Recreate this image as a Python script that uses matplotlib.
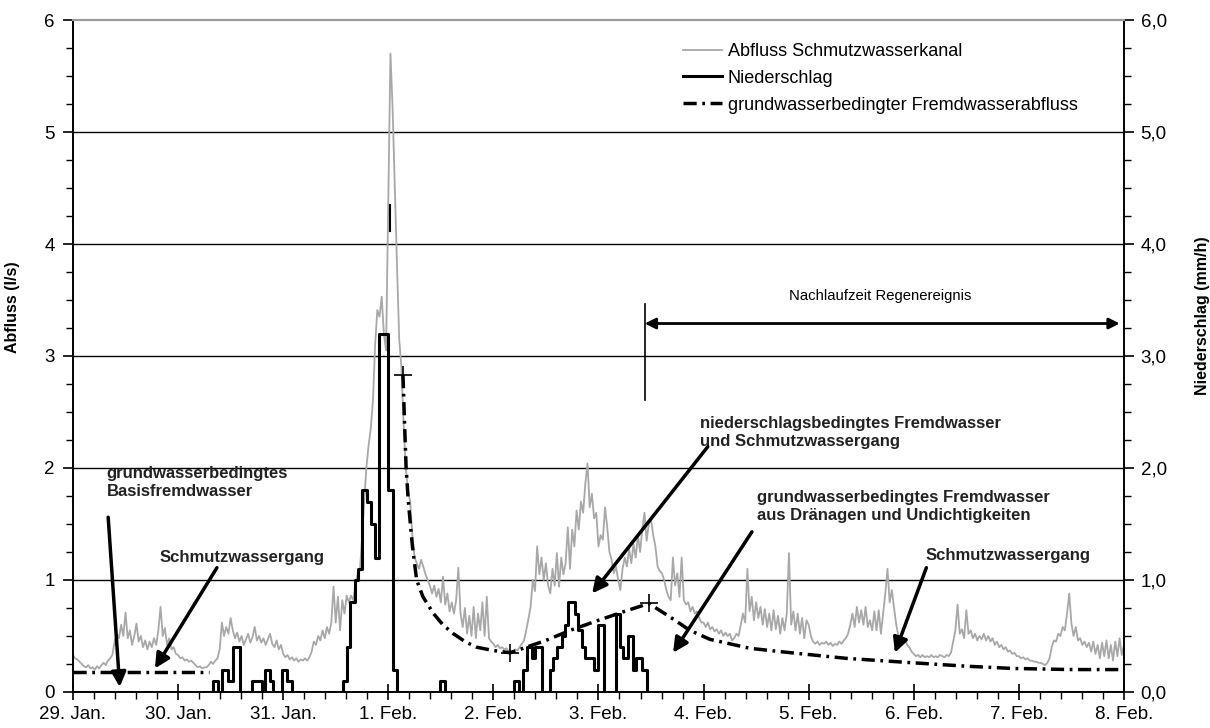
import numpy as np
import matplotlib.pyplot as plt
from matplotlib.ticker import MultipleLocator, FuncFormatter
from matplotlib.lines import Line2D

plt.rcParams['font.family'] = ['Liberation Sans', 'DejaVu Sans']

# sewer flow (l/s), 30-min values, one list per day
q_29jan = [0.33, 0.30, 0.29, 0.27, 0.25, 0.23, 0.22, 0.24, 0.21, 0.22, 0.20, 0.23,
           0.21, 0.24, 0.26, 0.24, 0.28, 0.30, 0.33, 0.45, 0.52, 0.48, 0.60, 0.50,
           0.71, 0.48, 0.55, 0.42, 0.50, 0.61, 0.45, 0.50, 0.40, 0.46, 0.38, 0.45,
           0.40, 0.48, 0.42, 0.55, 0.76, 0.50, 0.57, 0.42, 0.48, 0.38, 0.40, 0.34]
q_30jan = [0.33, 0.30, 0.31, 0.28, 0.29, 0.27, 0.28, 0.26, 0.24, 0.22, 0.23, 0.21,
           0.22, 0.22, 0.24, 0.27, 0.25, 0.28, 0.30, 0.38, 0.62, 0.50, 0.58, 0.52,
           0.66, 0.55, 0.48, 0.53, 0.45, 0.50, 0.42, 0.47, 0.52, 0.44, 0.49, 0.58,
           0.46, 0.50, 0.44, 0.48, 0.42, 0.47, 0.52, 0.43, 0.40, 0.46, 0.38, 0.42]
q_31jan = [0.34, 0.31, 0.33, 0.29, 0.31, 0.28, 0.30, 0.27, 0.29, 0.28, 0.30, 0.28,
           0.31, 0.36, 0.45, 0.42, 0.50, 0.46, 0.55, 0.48, 0.58, 0.52, 0.62, 0.94,
           0.62, 0.85, 0.55, 0.82, 0.70, 0.86, 0.80, 0.86, 0.82, 0.95, 1.05, 1.08,
           1.36, 1.70, 2.00, 2.20, 2.35, 2.60, 3.10, 3.41, 3.35, 3.53, 3.20, 3.05]
q_01feb = [4.40, 5.70, 5.20, 4.50, 3.80, 3.15, 2.90, 2.40, 2.00, 1.80, 1.70, 1.40,
           1.20, 1.15, 1.10, 1.18, 1.12, 1.05, 1.00, 0.95, 0.88, 0.95, 0.85, 0.92,
           0.80, 1.03, 0.78, 0.88, 0.72, 0.80, 0.70, 0.82, 1.11, 0.70, 0.58, 0.75,
           0.52, 0.68, 0.50, 0.76, 0.48, 0.70, 0.55, 0.80, 0.50, 0.85, 0.48, 0.45]
q_02feb = [0.43, 0.40, 0.42, 0.39, 0.40, 0.38, 0.39, 0.36, 0.37, 0.36, 0.38, 0.37,
           0.40, 0.43, 0.46, 0.55, 0.65, 0.76, 1.00, 0.90, 1.30, 1.05, 1.20, 1.00,
           1.15, 0.95, 0.88, 1.10, 0.95, 1.24, 0.94, 1.20, 1.05, 1.15, 1.47, 1.10,
           1.45, 1.30, 1.62, 1.45, 1.70, 1.60, 1.86, 2.04, 1.65, 1.77, 1.55, 1.60]
q_03feb = [1.30, 1.40, 1.36, 1.65, 1.47, 1.25, 1.18, 1.06, 1.12, 1.00, 0.91, 1.10,
           1.20, 1.12, 1.28, 1.15, 1.32, 1.20, 1.40, 1.25, 1.45, 1.60, 1.35, 1.50,
           1.54, 1.40, 1.30, 1.12, 1.08, 1.06, 1.00, 0.91, 0.85, 0.82, 1.20, 0.95,
           1.06, 0.85, 1.20, 0.82, 0.78, 0.80, 0.72, 0.76, 0.70, 0.72, 0.66, 0.62]
q_04feb = [0.62, 0.58, 0.62, 0.56, 0.58, 0.54, 0.56, 0.52, 0.55, 0.50, 0.53, 0.50,
           0.52, 0.46, 0.48, 0.52, 0.50, 0.60, 0.70, 0.62, 1.10, 0.72, 0.85, 0.64,
           0.80, 0.66, 0.76, 0.60, 0.74, 0.58, 0.70, 0.55, 0.73, 0.56, 0.68, 0.52,
           0.66, 0.55, 0.70, 1.24, 0.60, 0.72, 0.55, 0.70, 0.52, 0.66, 0.48, 0.64]
q_05feb = [0.60, 0.50, 0.45, 0.43, 0.45, 0.42, 0.44, 0.43, 0.45, 0.42, 0.44, 0.41,
           0.43, 0.42, 0.45, 0.43, 0.46, 0.48, 0.52, 0.60, 0.70, 0.58, 0.76, 0.62,
           0.73, 0.60, 0.76, 0.58, 0.64, 0.55, 0.72, 0.55, 0.73, 0.52, 0.70, 0.88,
           1.10, 0.80, 0.91, 0.75, 0.60, 0.50, 0.48, 0.45, 0.47, 0.42, 0.40, 0.36]
q_06feb = [0.34, 0.32, 0.33, 0.31, 0.33, 0.31, 0.32, 0.31, 0.33, 0.31, 0.32, 0.31,
           0.33, 0.32, 0.31, 0.33, 0.32, 0.35, 0.45, 0.55, 0.78, 0.52, 0.56, 0.48,
           0.73, 0.52, 0.55, 0.48, 0.52, 0.46, 0.50, 0.47, 0.52, 0.46, 0.50, 0.45,
           0.48, 0.42, 0.45, 0.40, 0.42, 0.38, 0.40, 0.36, 0.37, 0.34, 0.35, 0.32]
q_07feb = [0.32, 0.30, 0.31, 0.29, 0.30, 0.28, 0.28, 0.27, 0.27, 0.26, 0.26, 0.25,
           0.24, 0.26, 0.30, 0.40, 0.46, 0.45, 0.52, 0.50, 0.58, 0.55, 0.70, 0.88,
           0.61, 0.50, 0.58, 0.46, 0.48, 0.42, 0.45, 0.40, 0.44, 0.36, 0.45, 0.34,
           0.42, 0.30, 0.44, 0.32, 0.46, 0.30, 0.42, 0.28, 0.45, 0.32, 0.48, 0.33]
q_08feb = [0.42]

abfluss = q_29jan + q_30jan + q_31jan + q_01feb + q_02feb + q_03feb + q_04feb + q_05feb + q_06feb + q_07feb + q_08feb
t_abfluss = np.arange(len(abfluss)) / 48.0

# rain (mm/h): day where the step starts and its value
regen_t = [0.0, 1.335, 1.377, 1.415, 1.478, 1.525, 1.589, 1.703, 1.798, 1.827, 1.874, 1.906,
           1.986, 2.033, 2.081, 2.572, 2.604, 2.636, 2.683, 2.715, 2.747, 2.794, 2.832, 2.873,
           2.912, 3.0, 3.042, 3.086, 3.49, 3.54, 4.2, 4.247, 4.285, 4.317, 4.363, 4.395,
           4.464, 4.539, 4.57, 4.602, 4.65, 4.68, 4.707, 4.776, 4.81, 4.84, 4.87, 4.955,
           4.998, 5.052, 5.164, 5.205, 5.23, 5.284, 5.331, 5.36, 5.41, 5.46, 10.0]
regen_v = [0, 0.1, 0, 0.2, 0.1, 0.4, 0, 0.1, 0, 0.2, 0.1, 0,
           0.2, 0.1, 0, 0.1, 0.4, 0.8, 1.0, 1.1, 1.8, 1.7, 1.5, 1.2,
           3.2, 1.8, 0.2, 0, 0.1, 0, 0.1, 0, 0.2, 0.4, 0.3, 0.4,
           0, 0.2, 0.3, 0.4, 0.5, 0.6, 0.8, 0.7, 0.55, 0.4, 0.3, 0.2,
           0.6, 0, 0.7, 0.4, 0.3, 0.5, 0.2, 0.3, 0.2, 0, 0]

# groundwater related infiltration
gw_basis_t = [0.0, 1.29]
gw_basis_v = [0.18, 0.18]
gw_t = [3.14, 3.155, 3.17, 3.19, 3.23, 3.27, 3.33, 3.43, 3.52, 3.62, 3.73, 3.84, 4.0, 4.16,
        4.5, 4.73, 5.0, 5.25, 5.48, 5.68, 5.87, 6.06, 6.44, 6.73, 7.36, 8.0, 8.5, 8.94, 9.5, 10.0]
gw_v = [2.83, 2.4, 2.0, 1.71, 1.3, 1.0, 0.85, 0.7, 0.6, 0.52, 0.45, 0.4, 0.37, 0.35,
        0.46, 0.55, 0.64, 0.72, 0.79, 0.67, 0.55, 0.47, 0.39, 0.36, 0.30, 0.26, 0.23, 0.21, 0.2, 0.2]

kreuz_t = [3.14, 4.16, 5.48]
kreuz_v = [2.83, 0.35, 0.79]

day_labels = ['29. Jan.', '30. Jan.', '31. Jan.', '1. Feb.', '2. Feb.', '3. Feb.',
              '4. Feb.', '5. Feb.', '6. Feb.', '7. Feb.', '8. Feb.']

dashdot = (0, (3.8, 1.6, 0.8, 1.6))

"""######## PLOT ########"""
fig = plt.figure(figsize=(12.1, 7.28), dpi=100)
ax = fig.add_axes([0.0603, 0.0495, 0.8686, 0.923])
ax2 = ax.twinx()

for y in [1, 2, 3, 4, 5]:
    ax.axhline(y, color='k', lw=1.0, zorder=1)

ax.plot(t_abfluss, abfluss, color='#a8a8a8', lw=1.3, zorder=2)
ax2.step(regen_t, regen_v, where='post', color='k', lw=2.2, zorder=3)
ax2.plot(gw_basis_t, gw_basis_v, color='k', lw=2.5, ls=dashdot)
ax2.plot(gw_t, gw_v, color='k', lw=2.5, ls=dashdot)
ax2.plot(kreuz_t, kreuz_v, 'k+', ms=13, mew=1.2)
ax2.plot([3.016, 3.016], [4.12, 4.35], color='k', lw=1.5)

for a in (ax, ax2):
    a.set_xlim(0, 10)
    a.set_ylim(0, 6)
    a.spines['top'].set_color('#999999')
    a.spines['top'].set_linewidth(1.5)
    for s in ('left', 'right', 'bottom'):
        a.spines[s].set_linewidth(1.2)

ax.xaxis.set_major_locator(MultipleLocator(1))
ax.xaxis.set_minor_locator(MultipleLocator(0.2))
ax.set_xticks(range(11))
ax.set_xticklabels(day_labels)
ax.tick_params(axis='x', which='major', direction='inout', length=11, width=1.2, labelsize=13.5, pad=4.5)
ax.tick_params(axis='x', which='minor', direction='out', length=5, width=1.0)

ax.yaxis.set_major_locator(MultipleLocator(1))
ax.yaxis.set_minor_locator(MultipleLocator(0.25))
ax.tick_params(axis='y', which='major', direction='out', length=7, width=1.2, labelsize=13.5, pad=6)
ax.tick_params(axis='y', which='minor', direction='out', length=5, width=1.0)

ax2.yaxis.set_major_locator(MultipleLocator(1))
ax2.yaxis.set_minor_locator(MultipleLocator(0.25))
ax2.yaxis.set_major_formatter(FuncFormatter(lambda v, p: ('%.1f' % v).replace('.', ',')))
ax2.tick_params(axis='y', which='major', direction='out', length=7, width=1.2, labelsize=13.5, pad=5)
ax2.tick_params(axis='y', which='minor', direction='out', length=5, width=1.0)

ax.set_ylabel('Abfluss (l/s)', fontsize=11.5, fontweight='bold')
ax.yaxis.set_label_coords(-0.0504, 0.573)
ax2.set_ylabel('Niederschlag (mm/h)', fontsize=11.5, fontweight='bold')
ax2.yaxis.set_label_coords(1.0676, 0.56)

# legend
handles = [Line2D([], [], color='#a8a8a8', lw=1.3),
           Line2D([], [], color='k', lw=2.2),
           Line2D([], [], color='k', lw=2.5, ls=dashdot)]
names = ['Abfluss Schmutzwasserkanal', 'Niederschlag', 'grundwasserbedingter Fremdwasserabfluss']
ax2.legend(handles, names, loc='upper left', bbox_to_anchor=(0.58, 0.966), frameon=False,
           fontsize=13, borderpad=0, borderaxespad=0, handlelength=2.2, handletextpad=0.3,
           labelspacing=0.55)

# annotations
arrow = dict(arrowstyle='-|>', color='k', lw=2.5, mutation_scale=22, shrinkA=0, shrinkB=0)
bold = dict(fontsize=12, fontweight='bold', color='#222222')

ax2.text(0.32, 1.87, 'grundwasserbedingtes\nBasisfremdwasser', ha='left', va='center', linespacing=1.25, **bold)
ax2.annotate('', xy=(0.445, 0.045), xytext=(0.335, 1.56), arrowprops=arrow)

ax2.text(1.61, 1.2, 'Schmutzwassergang', ha='center', va='center', **bold)
ax2.annotate('', xy=(0.78, 0.21), xytext=(1.37, 1.11), arrowprops=arrow)

ax2.text(5.97, 2.32, 'niederschlagsbedingtes Fremdwasser\nund Schmutzwassergang', ha='left', va='center', linespacing=1.25, **bold)
ax2.annotate('', xy=(4.94, 0.88), xytext=(6.04, 2.19), arrowprops=arrow)

ax2.text(6.51, 1.66, 'grundwasserbedingtes Fremdwasser\naus Dränagen und Undichtigkeiten', ha='left', va='center', linespacing=1.25, **bold)
ax2.annotate('', xy=(5.71, 0.35), xytext=(6.46, 1.43), arrowprops=arrow)

ax2.text(8.9, 1.22, 'Schmutzwassergang', ha='center', va='center', **bold)
ax2.annotate('', xy=(7.82, 0.35), xytext=(8.12, 1.11), arrowprops=arrow)

# Nachlaufzeit
ax2.plot([5.44, 5.44], [2.61, 3.46], color='k', lw=1.2)
ax2.annotate('', xy=(9.96, 3.29), xytext=(5.44, 3.29),
             arrowprops=dict(arrowstyle='<|-|>', color='k', lw=2.0, mutation_scale=16, shrinkA=0, shrinkB=0))
ax2.text(7.68, 3.54, 'Nachlaufzeit Regenereignis', ha='center', va='center', fontsize=10.7)

fig.savefig('out.png', dpi=100)
